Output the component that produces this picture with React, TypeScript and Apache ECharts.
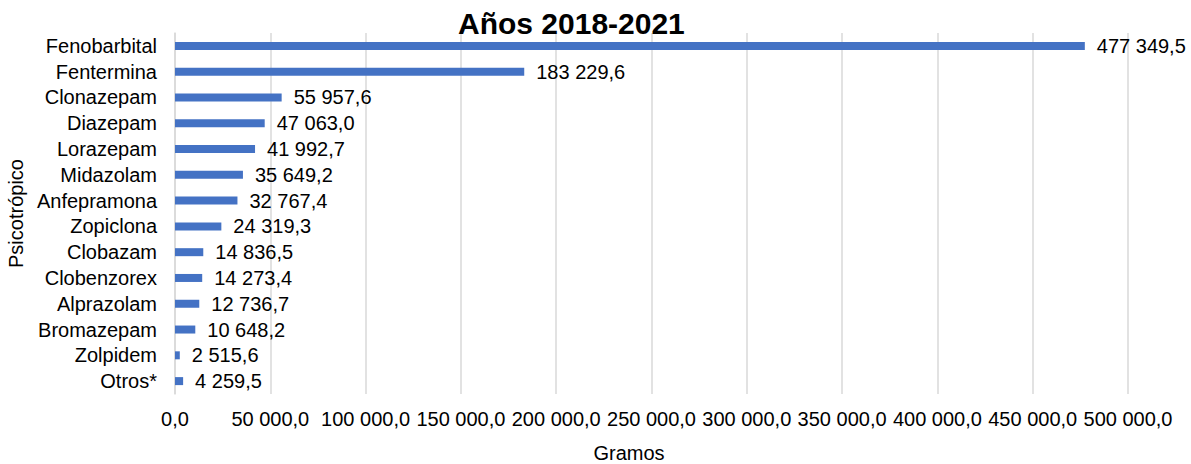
import React, { useEffect, useRef } from "react";
import * as echarts from "echarts";

const categories = [
  "Fenobarbital",
  "Fentermina",
  "Clonazepam",
  "Diazepam",
  "Lorazepam",
  "Midazolam",
  "Anfepramona",
  "Zopiclona",
  "Clobazam",
  "Clobenzorex",
  "Alprazolam",
  "Bromazepam",
  "Zolpidem",
  "Otros*",
];
const values = [
  477349.5, 183229.6, 55957.6, 47063.0, 41992.7, 35649.2, 32767.4, 24319.3,
  14836.5, 14273.4, 12736.7, 10648.2, 2515.6, 4259.5,
];
const xMin = 0;
const xMax = 500000;
const xInterval = 50000;

const FONT = "Arial, 'Liberation Sans', sans-serif";
const FS = 20;

function fmt(v: number): string {
  const s = v.toFixed(1);
  const [intPart, dec] = s.split(".");
  const withSpaces = intPart.replace(/\B(?=(\d{3})+(?!\d))/g, " ");
  return withSpaces + "," + dec;
}

export default function App() {
  const ref = useRef<HTMLDivElement>(null);
  useEffect(() => {
    if (!ref.current) return;
    const chart = echarts.init(ref.current, undefined, { renderer: "svg" });
    chart.setOption({
      animation: false,
      backgroundColor: "#ffffff",
      title: {
        text: "Años 2018-2021",
        left: 453,
        top: 3,
        textStyle: {
          fontFamily: FONT,
          fontSize: 30,
          fontWeight: "bold",
          color: "#000000",
        },
      },
      grid: {
        left: 175,
        right: 63,
        top: 33,
        bottom: 70,
        containLabel: false,
        outerBoundsMode: "none",
      },
      xAxis: {
        type: "value",
        min: xMin,
        max: xMax,
        interval: xInterval,
        name: "Gramos",
        nameLocation: "middle",
        nameGap: 49,
        nameTextStyle: {
          fontFamily: FONT,
          fontSize: FS,
          color: "#000000",
          padding: [0, 45, 0, 0],
        },
        axisLine: { show: false },
        axisTick: { show: false },
        axisLabel: {
          fontFamily: FONT,
          fontSize: FS,
          color: "#000000",
          margin: 15,
          formatter: (v: number) => fmt(v),
        },
        splitLine: { show: true, lineStyle: { color: "#d9d9d9", width: 1.5 } },
      },
      yAxis: {
        type: "category",
        data: categories,
        inverse: true,
        name: "Psicotrópico",
        nameLocation: "middle",
        nameGap: 146,
        nameRotate: 90,
        nameTextStyle: {
          fontFamily: FONT,
          fontSize: FS,
          color: "#000000",
        },
        axisLine: { show: true, lineStyle: { color: "#d9d9d9", width: 1.5 } },
        axisTick: { show: false },
        axisLabel: {
          fontFamily: FONT,
          fontSize: FS,
          color: "#000000",
          margin: 18,
          interval: 0,
        },
      },
      series: [
        {
          type: "bar",
          data: values,
          barWidth: 8,
          itemStyle: { color: "#4472C4" },
          label: {
            show: true,
            position: "right",
            distance: 12,
            fontFamily: FONT,
            fontSize: FS,
            color: "#000000",
            formatter: (p: any) => fmt(p.value),
          },
        },
      ],
    });
    return () => chart.dispose();
  }, []);
  return (
    <div
      ref={ref}
      style={{ position: "fixed", left: 0, top: 0, width: 1191, height: 464 }}
    />
  );
}
